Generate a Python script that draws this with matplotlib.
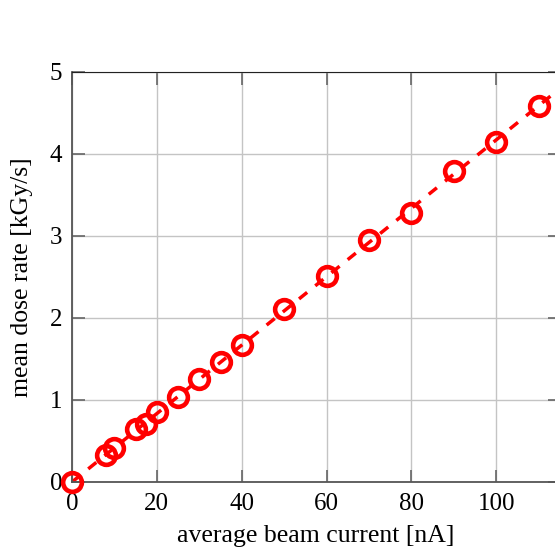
import numpy as np
import matplotlib.pyplot as plt

# beam current [nA] and measured mean dose rate [kGy/s]
current = [0, 8, 10, 15, 17.5, 20, 25, 30, 35, 40, 50, 60, 70, 80, 90, 100, 110]
dose_rate = [0, 0.33, 0.42, 0.65, 0.71, 0.85, 1.04, 1.26, 1.46, 1.67,
             2.11, 2.51, 2.95, 3.28, 3.79, 4.15, 4.59]

x_ticks = [0, 20, 40, 60, 80, 100]
y_ticks = [0, 1, 2, 3, 4, 5]

plt.rcParams['font.family'] = ['Liberation Serif', 'DejaVu Serif']

fig = plt.figure(figsize=(5.55, 5.47), dpi=100)
ax = fig.add_axes([72 / 555, 65 / 547, 488 / 555, 410 / 547])

# linear fit through the origin
x = np.array(current)
y = np.array(dose_rate)
slope = np.sum(x * y) / np.sum(x * x)
xf = np.array([0, 115])
ax.plot(xf, slope * xf, '--', color='red', lw=2.5, dashes=(3, 3), zorder=2)

ax.plot(current, dose_rate, 'o', mfc='none', mec='red', mew=3.3, ms=13.5,
        zorder=3, clip_on=False)

ax.set_xlim(0, 115)
ax.set_ylim(0, 5)
ax.set_xticks(x_ticks)
ax.set_yticks(y_ticks)
ax.grid(True, color='#c4c4c4', lw=1)
ax.set_axisbelow(True)

ax.tick_params(direction='in', length=9, width=1.2, color='#666666',
               labelsize=18, top=True, right=True)
ax.tick_params(axis='x', pad=8)
ax.tick_params(axis='y', pad=7)
for side in ['left', 'bottom']:
    ax.spines[side].set_color('#555555')
    ax.spines[side].set_linewidth(1.3)
ax.spines['top'].set_color('#222222')

ax.set_xlabel('average beam current [nA]', fontsize=18.5, labelpad=7)
ax.set_ylabel('mean dose rate [kGy/s]', fontsize=18.5, labelpad=12)

fig.savefig('out.png', dpi=100)
